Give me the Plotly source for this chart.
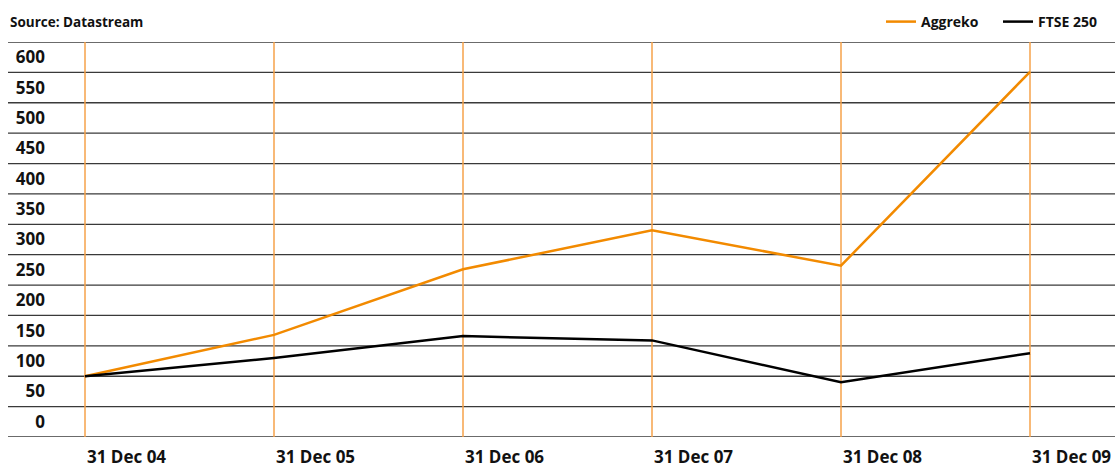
import plotly.graph_objects as go

# ---- data ----
dates = ["31 Dec 04", "31 Dec 05", "31 Dec 06", "31 Dec 07", "31 Dec 08", "31 Dec 09"]
aggreko = [100, 168, 276, 340, 282, 601]
ftse250 = [100, 130, 166, 159, 90, 138]
y_tick_values = [0, 50, 100, 150, 200, 250, 300, 350, 400, 450, 500, 550, 600]
y_tick_labels = [str(v) for v in y_tick_values]
grid_values = list(range(0, 651, 50))

FONT = "Open Sans"
TXT = "#111111"
ORANGE = "#F28A00"
LIGHT_ORANGE = "#F6A24A"

W, H = 1115, 468
ml, mr, mt, mb = 50, 0, 42, 31
pw = W - ml - mr
ph = H - mt - mb
# x axis: first vertical line at px 85, last at px 1030
px_per_unit = (1030 - 85) / 5
x0 = -(85 - ml) / px_per_unit
x1 = x0 + pw / px_per_unit

xs = list(range(len(dates)))

fig = go.Figure()
fig.add_trace(go.Scatter(x=xs, y=aggreko, mode="lines", name="Aggreko",
                         line=dict(color=ORANGE, width=2.5), cliponaxis=False))
fig.add_trace(go.Scatter(x=xs, y=ftse250, mode="lines", name="FTSE 250",
                         line=dict(color="#000000", width=2.5), cliponaxis=False))

shapes = []
gx0 = -(ml - 8) / pw
for g in grid_values:
    shapes.append(dict(type="line", xref="paper", yref="y", x0=gx0, x1=1, y0=g, y1=g,
                       line=dict(color="#3a3a3a", width=1.3), layer="below"))
for i in xs:
    shapes.append(dict(type="line", xref="x", yref="paper", x0=i, x1=i, y0=0, y1=1,
                       line=dict(color=LIGHT_ORANGE, width=1.5), layer="below"))

annotations = []
for i, d in enumerate(dates):
    annotations.append(dict(x=i, y=0, xref="x", yref="paper", text="<b>%s</b>" % d,
                            showarrow=False, xanchor="left", yanchor="middle", yshift=-19,
                            font=dict(family=FONT, size=17, color=TXT)))
annotations.append(dict(x=(8 - ml) / pw, y=1 + (mt - 22) / ph, xref="paper", yref="paper",
                        text="<b>Source: Datastream</b>",
                        showarrow=False, xanchor="left", yanchor="middle",
                        font=dict(family=FONT, size=13.5, color=TXT)))

fig.update_layout(
    width=W, height=H,
    margin=dict(l=ml, r=mr, t=mt, b=mb),
    paper_bgcolor="white", plot_bgcolor="white",
    showlegend=True,
    legend=dict(orientation="h", x=1, xanchor="right", y=1 + (mt - 22) / ph,
                yanchor="middle", entrywidth=72,
                font=dict(family=FONT, size=14, color=TXT, weight="bold"),
                bgcolor="rgba(0,0,0,0)", itemwidth=30, traceorder="normal"),
    xaxis=dict(range=[x0, x1], showgrid=False, zeroline=False, showticklabels=False,
               showline=False, fixedrange=True),
    yaxis=dict(range=[0, 650], tickvals=[v + 25 for v in y_tick_values], ticktext=y_tick_labels,
               showgrid=False, zeroline=False, showline=False, ticks="", ticklabelstandoff=4,
               tickfont=dict(family=FONT, size=17, color=TXT, weight="bold"), fixedrange=True),
    shapes=shapes,
    annotations=annotations,
    hovermode=False,
)

fig.write_html("out.html")
